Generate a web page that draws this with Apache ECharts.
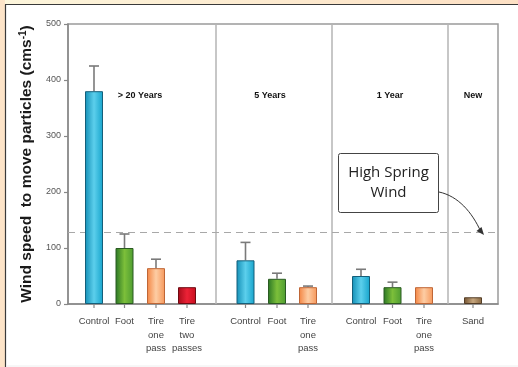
<!DOCTYPE html>
<html>
<head>
<meta charset="utf-8">
<script src="https://cdn.jsdelivr.net/npm/echarts@6/dist/echarts.min.js"></script>
<style>
  html, body { margin: 0; padding: 0; background: #fff; }
  #chart { width: 518px; height: 367px; }
</style>
</head>
<body>
<div id="chart"></div>
<script>
// Treatments, age groups and measured threshold wind speeds (cm/s)
const categories = ['Control', 'Foot', 'Tire\none\npass', 'Tire\ntwo\npasses',
                    'Control', 'Foot', 'Tire\none\npass',
                    'Control', 'Foot', 'Tire\none\npass',
                    'Sand'];
const treatment = ['control', 'foot', 'tire1', 'tire2',
                   'control', 'foot', 'tire1',
                   'control', 'foot', 'tire1',
                   'sand'];
const meanSpeed = [380, 100, 64, 30, 78, 45, 30, 50, 30, 30, 12];
const errorSpeed = [45, 25, 16, 0, 32, 10, 2, 12, 9, 0, 0];
const groupNames = ['> 20 Years', '5 Years', '1 Year', 'New'];
const highSpringWind = 128;
const yTicks = [0, 100, 200, 300, 400, 500];

// Layout along the horizontal axis (axis units)
const barPos = [2.6, 5.65, 8.8, 11.9, 17.75, 20.9, 24.0, 29.3, 32.45, 35.6, 40.5];
const dividerPos = [14.8, 26.4, 38.0];
const groupLabelPos = [7.2, 20.2, 32.2, 40.5];
const groupLabelY = 373;

function grad(c0, c1, c2) {
  return new echarts.graphic.LinearGradient(0, 0, 1, 0, [
    { offset: 0, color: c0 }, { offset: 0.5, color: c1 }, { offset: 1, color: c2 }
  ]);
}
const palette = {
  control: { fill: grad('#138fb6', '#5ccfec', '#16a4cc'), border: '#145f7a' },
  foot:    { fill: grad('#2a7625', '#7cbf3a', '#4d9c31'), border: '#2a5a22' },
  tire1:   { fill: grad('#f38442', '#fdcda4', '#f6975a'), border: '#bf6636' },
  tire2:   { fill: grad('#a60c1a', '#ec2236', '#c80e1e'), border: '#6e0a12' },
  sand:    { fill: grad('#72522f', '#c6a67e', '#87663f'), border: '#523c26' }
};

const barData = meanSpeed.map((v, i) => ({
  value: [barPos[i], v],
  itemStyle: { color: palette[treatment[i]].fill, borderColor: palette[treatment[i]].border, borderWidth: 1 }
}));

const chart = echarts.init(document.getElementById('chart'), null, { renderer: 'canvas' });

const font = '"Liberation Sans", Arial, sans-serif';

chart.setOption({
  animation: false,
  backgroundColor: '#ffffff',
  graphic: [
    // page frame: cream band on top, peach band on the left, dark rule
    { type: 'rect', shape: { x: 0, y: 0, width: 518, height: 5 }, z: -10,
      style: { fill: new echarts.graphic.LinearGradient(0, 0, 1, 0, [
        { offset: 0, color: '#fdf6dc' }, { offset: 1, color: '#fde0c4' }]) } },
    { type: 'rect', shape: { x: 0, y: 0, width: 5, height: 367 }, z: -10,
      style: { fill: '#fde4c8' } },
    { type: 'line', shape: { x1: 5, y1: 4.5, x2: 518, y2: 4.5 }, z: -9,
      style: { stroke: '#3a3a3a', lineWidth: 1.2 } },
    { type: 'line', shape: { x1: 5.5, y1: 4.5, x2: 5.5, y2: 367 }, z: -9,
      style: { stroke: '#3a3a3a', lineWidth: 1.2 } },
    { type: 'line', shape: { x1: 6, y1: 366, x2: 518, y2: 366 }, z: -9,
      style: { stroke: '#eeeeee', lineWidth: 1 } },
    // callout box
    { type: 'rect', shape: { x: 338.5, y: 153.5, width: 100, height: 59, r: 2 }, z: 20,
      style: { fill: '#ffffff', stroke: '#444', lineWidth: 1 } },
    { type: 'text', x: 388.5, y: 183, z: 21,
      style: { text: 'High Spring\nWind', fill: '#222', font: '15px "Open Sans", "Noto Sans", sans-serif',
               align: 'center', verticalAlign: 'middle', lineHeight: 20 } },
    { type: 'bezierCurve', z: 21,
      shape: { x1: 439, y1: 192, cpx1: 458, cpy1: 196, x2: 481, y2: 232, cpx2: 472, cpy2: 212 },
      style: { stroke: '#333', lineWidth: 1, fill: null } },
    { type: 'polygon', z: 21,
      shape: { points: [[484, 235], [476.5, 231], [481.5, 227]] },
      style: { fill: '#333' } }
  ],
  grid: { left: 68, right: 20, top: 24, bottom: 63, show: true, borderColor: '#9a9a9a', borderWidth: 1.5 },
  xAxis: {
    type: 'value', min: 0, max: 43,
    axisLine: { show: true, lineStyle: { color: '#888', width: 1.5 } },
    axisTick: { show: false }, axisLabel: { show: false }, splitLine: { show: false }
  },
  yAxis: {
    type: 'value', min: 0, max: 500, interval: 100,
    name: 'Wind speed  to move particles (cms{sup|-1})',
    nameLocation: 'middle', nameGap: 27,
    nameTextStyle: {
      fontFamily: font, fontWeight: 'bold', fontSize: 15.5, color: '#1a1a1a',
      rich: { sup: { fontFamily: font, fontWeight: 'bold', fontSize: 10, color: '#1a1a1a', verticalAlign: 'top', padding: [0, 0, 7, 0] } }
    },
    axisLine: { show: true, lineStyle: { color: '#888', width: 1.5 } },
    axisTick: { show: true, inside: false, length: 4, lineStyle: { color: '#888', width: 1.2 } },
    axisLabel: { fontFamily: font, fontSize: 9, color: '#555', margin: 7,
                 formatter: v => yTicks.includes(v) ? String(v) : '' },
    splitLine: { show: false }
  },
  series: [
    {
      type: 'bar', barWidth: 18, data: barData, z: 5,
      markLine: {
        silent: true, symbol: 'none', label: { show: false }, animation: false,
        data: [
          ...dividerPos.map(x => ({ xAxis: x, lineStyle: { color: '#b4b4b4', width: 1.5, type: 'solid' } })),
          { yAxis: highSpringWind, lineStyle: { color: '#a8a8a8', width: 1.2, type: [7, 5] } }
        ]
      }
    },
    {
      // upper error bars
      type: 'custom', z: 4,
      data: meanSpeed.map((v, i) => [barPos[i], v, v + errorSpeed[i]]),
      renderItem(params, api) {
        if (api.value(2) <= api.value(1)) return null;
        const base = api.coord([api.value(0), api.value(1)]);
        const top = api.coord([api.value(0), api.value(2)]);
        const st = { stroke: '#7a7a7a', lineWidth: 1.6 };
        return { type: 'group', children: [
          { type: 'line', shape: { x1: base[0], y1: base[1], x2: top[0], y2: top[1] }, style: st },
          { type: 'line', shape: { x1: top[0] - 5, y1: top[1], x2: top[0] + 5, y2: top[1] }, style: st }
        ] };
      }
    },
    {
      // category ticks and labels under the axis
      type: 'custom', z: 6,
      data: categories.map((c, i) => [barPos[i], 0]),
      renderItem(params, api) {
        const p = api.coord([api.value(0), 0]);
        return { type: 'group', children: [
          { type: 'line', shape: { x1: p[0], y1: p[1], x2: p[0], y2: p[1] + 4 },
            style: { stroke: '#888', lineWidth: 1.2 } },
          { type: 'text', x: p[0], y: p[1] + 11,
            style: { text: categories[params.dataIndex], fill: '#444', align: 'center', verticalAlign: 'top',
                     font: '9.5px ' + font, lineHeight: 13.5 } }
        ] };
      }
    },
    {
      // age group headings
      type: 'custom', z: 6,
      data: groupNames.map((g, i) => [groupLabelPos[i], groupLabelY]),
      renderItem(params, api) {
        const p = api.coord([api.value(0), api.value(1)]);
        return { type: 'text', x: p[0], y: p[1],
          style: { text: groupNames[params.dataIndex], fill: '#111', align: 'center', verticalAlign: 'middle',
                   font: 'bold 9px ' + font } };
      }
    }
  ]
});
</script>
</body>
</html>
